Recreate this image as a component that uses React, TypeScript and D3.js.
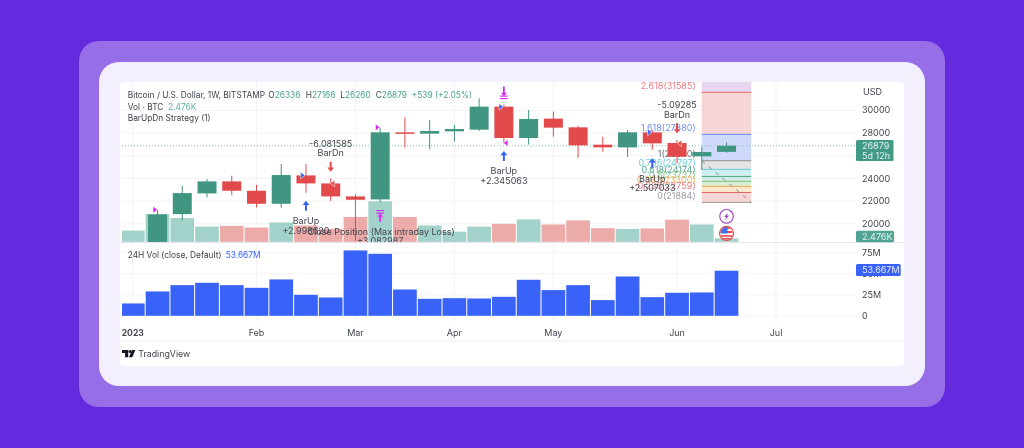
import React from "react";
import * as d3 from "d3";

// weekly bars, Jan 2 is off the bottom of the price scale so it only has volume
const weekStart = (i: number) => d3.utcDay.offset(new Date(Date.UTC(2023, 0, 2)), i * 7);

const opens = [17100, 20854, 22677, 23736, 22912, 21765, 24265, 23559, 22412, 22147, 28059, 27941, 28147, 28294, 30323, 27559, 29265, 28500, 26971, 26735, 28059, 27118, 25941, 26336];
const highs = [21236, 23353, 23942, 24236, 23441, 25265, 25265, 24000, 22588, 28471, 29382, 29147, 28706, 31059, 30500, 30029, 29882, 28647, 27676, 28265, 28265, 27382, 26794, 27166];
const lows = [17000, 20324, 22324, 22530, 21442, 21412, 22736, 22000, 18500, 21883, 26706, 26559, 27235, 28176, 27088, 26970, 27676, 25824, 26353, 25882, 26529, 25324, 24735, 26260];
const closes = [20824, 22706, 23736, 22912, 21765, 24295, 23559, 22412, 22118, 28059, 27950, 28177, 28353, 30323, 27559, 29235, 28471, 26912, 26735, 28059, 27088, 25912, 26324, 26879];

const volumes = [8.17, 20.3, 17.3, 11.1, 11.6, 10.4, 14.1, 11.9, 9.4, 18.1, 29.5, 18.1, 11.9, 7.4, 11.1, 13.1, 16.3, 12.6, 15.6, 9.9, 9.4, 9.7, 16.1, 12.6, 2.476];
const volumeUp = [1, 1, 1, 1, 0, 0, 1, 0, 0, 0, 1, 0, 1, 1, 1, 0, 1, 0, 0, 0, 1, 0, 0, 1, 1];
const vol24h = [14.7, 29, 36.5, 39.3, 36.5, 33.3, 43.3, 25, 21.8, 77.8, 73.8, 31.3, 20.2, 21, 20.6, 22.6, 42.9, 30.6, 36.5, 18.7, 46.8, 22.2, 27.4, 27.8, 53.667];

const priceTicks = [30000, 28000, 26000, 24000, 22000, 20000];
const priceLabels = [30000, 28000, 24000, 22000, 20000];
const volTicks = [0, 25, 50, 75];
const monthTicks = [
  { label: "2023", week: 0 },
  { label: "Feb", week: 5 },
  { label: "Mar", week: 9 },
  { label: "Apr", week: 13 },
  { label: "May", week: 17 },
  { label: "Jun", week: 22 },
  { label: "Jul", week: 26 },
];

const fibNames = ["2.618(31585)", "1.618(27880)", "1(25560)", "0.786(24797)", "0.618(24174)", "0.5(23737)", "0.382(23300)", "0.236(22759)", "0(21884)"];
const fibPrices = [31585, 27880, 25560, 24797, 24174, 23737, 23300, 22759, 21884];
const fibColors = ["#e8636b", "#6086f2", "#8f8f8f", "#62cdd8", "#4ea592", "#7cc67c", "#f5ab45", "#e8636b", "#a0a0a0"];
const fibTextColors = ["#ec7b80", "#6f90f3", "#6b6e78", "#6fd0da", "#5aa995", "#86ca86", "#f4b35c", "#ec7b80", "#9a9ca4"];
const fibFills = ["#f6d5d7", "#cfd9fa", "#e3e3e3", "#cfeff1", "#d3ebe7", "#d9eed7", "#fbe8ca", "#f6d5d7"];

const upArrows = [
  { week: 7, tip: 22030, name: "BarUp", value: "+2.998620" },
  { week: 15, tip: 26412, name: "BarUp", value: "+2.345063" },
  { week: 21, tip: 25765, name: "BarUp", value: "+2.507033" },
];
const downArrows = [
  { week: 8, tip: 24588, name: "BarDn", value: "-6.081585" },
  { week: 22, tip: 27971, name: "BarDn", value: "-5.09285" },
];
const flags = [
  { week: 1, price: 21236, dx: -2.5, dir: 1, color: "#d42cf0" },
  { week: 10, price: 28500, dx: -2.7, dir: 1, color: "#d42cf0" },
  { week: 15, price: 27118, dx: 2, dir: -1, color: "#d42cf0" },
  { week: 7, price: 24265, dx: -3.3, dir: 1, color: "#3a66f5" },
  { week: 15, price: 30294, dx: -2.9, dir: 1, color: "#3a66f5" },
  { week: 21, price: 28059, dx: -2.7, dir: 1, color: "#3a66f5" },
  { week: 8, price: 23559, dx: 2, dir: -1, color: "#e5484d" },
  { week: 22, price: 27088, dx: 2.6, dir: -1, color: "#e5484d" },
];

const legendOhlc = [
  { key: "O", value: "26336", left: 268.3 },
  { key: "H", value: "27166", left: 305.7 },
  { key: "L", value: "26260", left: 340.3 },
  { key: "C", value: "26879", left: 375.7 },
];

const GREEN = "#3f9680";
const RED = "#e2494c";
const BLUE = "#3862f8";
const TEXT = "#42454f";
const GRID = "#f3f3f6";
const MAGENTA = "#d42cf0";

const x = d3.scaleUtc().domain([weekStart(0), weekStart(26)]).range([132.8, 776]);
const y = d3.scaleLinear().domain([20000, 30000]).range([223.8, 110.3]);
const yv = d3.scaleLinear().domain([0, 2.476]).range([241.8, 238.4]);
const y24 = d3.scaleLinear().domain([0, 75]).range([315.8, 252.8]);

const weekX = (i: number) => x(weekStart(i));
const PLOT_L = 122;
const PLOT_R = 856;
const PANE_TOP = 82;
const PANE_BOT = 242;

function UpArrow({ cx, tip, color }: { cx: number; tip: number; color: string }) {
  return <path d={`M${cx},${tip}l3.4,4.2h-2.4v5.8h-2v-5.8h-2.4z`} fill={color} />;
}

function DownArrow({ cx, tip, color }: { cx: number; tip: number; color: string }) {
  return <path d={`M${cx},${tip}l3.4,-4.2h-2.4v-5.8h-2v5.8h-2.4z`} fill={color} />;
}

export default function App() {
  const bandW = 23.7;
  const bodyW = 19;
  const usCx = weekX(24);
  return (
    <svg
      width={1024}
      height={448}
      viewBox="0 0 1024 448"
      style={{ position: "fixed", left: 0, top: 0, display: "block" }}
      fontFamily="Inter, 'Noto Sans', sans-serif"
    >
      <defs>
        <clipPath id="pricePane">
          <rect x={PLOT_L} y={PANE_TOP} width={PLOT_R - PLOT_L} height={PANE_BOT - PANE_TOP} />
        </clipPath>
        <clipPath id="flagClip">
          <circle cx={usCx} cy={233.3} r={6.2} />
        </clipPath>
        <filter id="soft" x="0" y="0" width="100%" height="100%">
          <feGaussianBlur stdDeviation="0.35" />
        </filter>
      </defs>

      {/* page backdrop */}
      <rect width={1024} height={448} fill="#642ade" />
      <rect x={79} y={41} width={866} height={366} rx={20} fill="#966ee8" />
      <rect x={99} y={62} width={826} height={324} rx={20} fill="#f3effd" />
      <rect x={120} y={82} width={784} height={284} rx={4} fill="#ffffff" />

      <g filter="url(#soft)">
        {/* grid */}
        {priceTicks.map((t) => (
          <line key={t} x1={PLOT_L} x2={PLOT_R} y1={y(t)} y2={y(t)} stroke={GRID} />
        ))}
        {volTicks.map((t) => (
          <line key={t} x1={PLOT_L} x2={PLOT_R} y1={y24(t)} y2={y24(t)} stroke={GRID} />
        ))}
        {monthTicks.map((m) => (
          <line key={m.label} x1={weekX(m.week)} x2={weekX(m.week)} y1={PANE_TOP} y2={322} stroke={GRID} />
        ))}
        <line x1={120} x2={904} y1={242.5} y2={242.5} stroke="#e6e6ea" />
        <line x1={120} x2={904} y1={341} y2={341} stroke="#eeeef1" />

        <g clipPath="url(#pricePane)">
          {/* volume */}
          {volumes.map((v, i) => (
            <rect
              key={i}
              x={weekX(i) - bandW / 2}
              y={yv(v)}
              width={bandW}
              height={yv(0) - yv(v)}
              fill={volumeUp[i] ? "#a3d2cb" : "#ecaaa8"}
            />
          ))}

          {/* fib box */}
          <rect x={weekX(23)} width={weekX(25) - weekX(23)} y={PANE_TOP} height={y(fibPrices[0]) - PANE_TOP} fill="#e6d6ef" />
          {fibFills.map((f, i) => (
            <rect
              key={i}
              x={weekX(23)}
              width={weekX(25) - weekX(23)}
              y={y(fibPrices[i])}
              height={y(fibPrices[i + 1]) - y(fibPrices[i])}
              fill={f}
            />
          ))}
          {fibPrices.map((p, i) => (
            <line key={p} x1={weekX(23)} x2={weekX(25)} y1={y(p)} y2={y(p)} stroke={fibColors[i]} />
          ))}
          <line
            x1={weekX(23)}
            x2={weekX(25)}
            y1={y(fibPrices[2])}
            y2={y(fibPrices[8])}
            stroke="#8a8a8a"
            strokeDasharray="4 5"
          />
          {fibNames.map((n, i) => (
            <text key={n} x={695.7} y={y(fibPrices[i]) - 6.7} dy="0.35em" textAnchor="end" fontSize={9} fill={fibTextColors[i]}>
              {n}
            </text>
          ))}

          {/* last price */}
          <line
            x1={PLOT_L}
            x2={PLOT_R}
            y1={y(26879)}
            y2={y(26879)}
            stroke="#7fc4b5"
            strokeDasharray="1 2"
          />

          {/* candles */}
          {closes.map((c, i) => {
            const cx = weekX(i + 1);
            const o = opens[i];
            const color = c >= o ? GREEN : RED;
            const top = y(Math.max(o, c));
            return (
              <g key={i}>
                <line x1={cx} x2={cx} y1={y(highs[i])} y2={y(lows[i])} stroke={color} />
                <rect x={cx - bodyW / 2} y={top} width={bodyW} height={Math.max(y(Math.min(o, c)) - top, 1.5)} fill={color} />
              </g>
            );
          })}

          {/* strategy marks */}
          {flags.map((f, i) => {
            const fx = weekX(f.week) + f.dx;
            const fy = y(f.price);
            return (
              <path
                key={i}
                d={`M${fx - f.dir * 2},${fy - 3.4}L${fx + f.dir * 2.4},${fy}L${fx - f.dir * 2},${fy + 3.4}z`}
                fill={f.color}
                stroke="#fff"
                strokeWidth={0.5}
              />
            );
          })}
          {upArrows.map((a) => (
            <g key={a.week}>
              <UpArrow cx={weekX(a.week)} tip={y(a.tip)} color={BLUE} />
              <text x={weekX(a.week)} y={y(a.tip) + 20} dy="0.35em" textAnchor="middle" fontSize={9} fill={TEXT}>{a.name}</text>
              <text x={weekX(a.week)} y={y(a.tip) + 29.7} dy="0.35em" textAnchor="middle" fontSize={9} fill={TEXT}>{a.value}</text>
            </g>
          ))}
          {downArrows.map((a) => (
            <g key={a.week}>
              <DownArrow cx={weekX(a.week)} tip={y(a.tip)} color={RED} />
              <text x={weekX(a.week)} y={y(a.tip) - 28.3} dy="0.35em" textAnchor="middle" fontSize={9} fill={TEXT}>{a.value}</text>
              <text x={weekX(a.week)} y={y(a.tip) - 18.7} dy="0.35em" textAnchor="middle" fontSize={9} fill={TEXT}>{a.name}</text>
            </g>
          ))}

          {/* close position marks */}
          <g fill={MAGENTA}>
            <rect x={weekX(10) - 3.8} y={210} width={7.6} height={1.2} />
            <rect x={weekX(10) - 3.8} y={212.6} width={7.6} height={1.2} />
            <path d={`M${weekX(10)},${213.4}l3,3.4h-2.1v4.9h-1.8v-4.9h-2.1z`} />
            <rect x={weekX(15) - 3.8} y={95.5} width={7.6} height={1.2} />
            <rect x={weekX(15) - 3.8} y={98} width={7.6} height={1.2} />
            <path d={`M${weekX(15)},${96.2}l3,-3.4h-2.1v-6.2h-1.8v6.2h-2.1z`} />
          </g>
          <text x={weekX(10) + 1} y={232} dy="0.35em" textAnchor="middle" fontSize={9} fill={TEXT}>Close Position (Max intraday Loss)</text>
          <text x={weekX(10)} y={241.3} dy="0.35em" textAnchor="middle" fontSize={9} fill={TEXT}>+3.082987</text>
        </g>

        {/* economic event badges */}
        <circle cx={usCx} cy={216.3} r={6.8} fill="#fff" stroke="#a046c4" strokeWidth={1.2} />
        <path d={`M${usCx + 1.6},${212.4}l-4,4.6h2.2l-1.2,3.2l4,-4.6h-2.2z`} fill="#a046c4" />
        <circle cx={usCx} cy={233.3} r={7} fill="#fff" stroke="#e5484d" strokeWidth={1.2} />
        <g clipPath="url(#flagClip)">
          <rect x={usCx - 7} y={227} width={14} height={2} fill="#e5484d" />
          <rect x={usCx - 7} y={231} width={14} height={2} fill="#e5484d" />
          <rect x={usCx - 7} y={235.2} width={14} height={1.6} fill="#e5484d" />
          <rect x={usCx - 7} y={238} width={14} height={2} fill="#e5484d" />
          <rect x={usCx - 6} y={227} width={7} height={6.5} fill="#3f6ff0" />
        </g>

        {/* 24h volume pane */}
        {vol24h.map((v, i) => (
          <rect
            key={i}
            x={Math.max(weekX(i) - bandW / 2, PLOT_L)}
            y={y24(v)}
            width={i === 0 ? weekX(i) + bandW / 2 - PLOT_L : bandW}
            height={y24(0) - y24(v)}
            fill={BLUE}
          />
        ))}

        {/* right axis */}
        <text x={863} y={91.7} dy="0.35em" fontSize={9} fill={TEXT}>USD</text>
        {priceLabels.map((t) => (
          <text key={t} x={862} y={y(t)} dy="0.35em" fontSize={9} fill={TEXT}>{t}</text>
        ))}
        {volTicks.map((t) => (
          <text key={t} x={862} y={y24(t)} dy="0.35em" fontSize={9} fill={TEXT}>{t === 0 ? "0" : `${t}M`}</text>
        ))}
        <rect x={856} y={140} width={37.5} height={21} rx={1.5} fill="#3f9a85" />
        <text x={862} y={145.5} dy="0.35em" fontSize={9} fill="#e4f3ef">26879</text>
        <text x={862} y={155.5} dy="0.35em" fontSize={9} fill="#e4f3ef">5d 12h</text>
        <rect x={856} y={230.7} width={38} height={11.5} rx={1.5} fill="#4fa493" />
        <text x={862} y={236.5} dy="0.35em" fontSize={9} fill="#e4f3ef">2.476K</text>
        <rect x={856} y={264} width={44.7} height={12} rx={1.5} fill={BLUE} />
        <text x={862} y={270} dy="0.35em" fontSize={9} fill="#e8edff">53.667M</text>

        {/* time axis */}
        {monthTicks.map((m) => (
          <text
            key={m.label}
            x={weekX(m.week)}
            y={332.7}
            dy="0.35em"
            textAnchor="middle"
            fontSize={m.label === "2023" ? 8.6 : 9}
            fontWeight={m.label === "2023" ? 700 : 400}
            fill={TEXT}
          >
            {m.label}
          </text>
        ))}

        {/* legends */}
        <text x={127.7} y={95} dy="0.35em" fontSize={8.35} fill={TEXT}>Bitcoin / U.S. Dollar, 1W, BITSTAMP</text>
        {legendOhlc.map((d) => (
          <text key={d.key} x={d.left} y={95} dy="0.35em" fontSize={8.35} fill={TEXT}>
            {d.key}
            <tspan fill="#4aa08e">{d.value}</tspan>
          </text>
        ))}
        <text x={411.7} y={95} dy="0.35em" fontSize={8.35} fill="#4aa08e">+539 (+2.05%)</text>
        <text x={127.7} y={106.7} dy="0.35em" fontSize={8.35} fill={TEXT}>Vol · BTC</text>
        <text x={168} y={106.7} dy="0.35em" fontSize={8.35} fill="#5fb3a3">2.476K</text>
        <text x={127.7} y={118.3} dy="0.35em" fontSize={8.35} fill={TEXT}>BarUpDn Strategy (1)</text>
        <text x={127.7} y={255} dy="0.35em" fontSize={8.35} fill={TEXT}>24H Vol (close, Default)</text>
        <text x={225.7} y={255} dy="0.35em" fontSize={8.35} fill={BLUE}>53.667M</text>

        {/* TradingView mark */}
        <g fill="#131722">
          <path d="M122,350h6.2v7.2h-3.1v-4.3h-3.1z" />
          <circle cx={130} cy={351.5} r={1.5} />
          <path d="M132,350h3.3l-3,7.2h-3.3z" />
        </g>
        <text x={138.3} y={353.7} dy="0.35em" fontSize={8.8} fill={TEXT}>TradingView</text>
      </g>
    </svg>
  );
}
